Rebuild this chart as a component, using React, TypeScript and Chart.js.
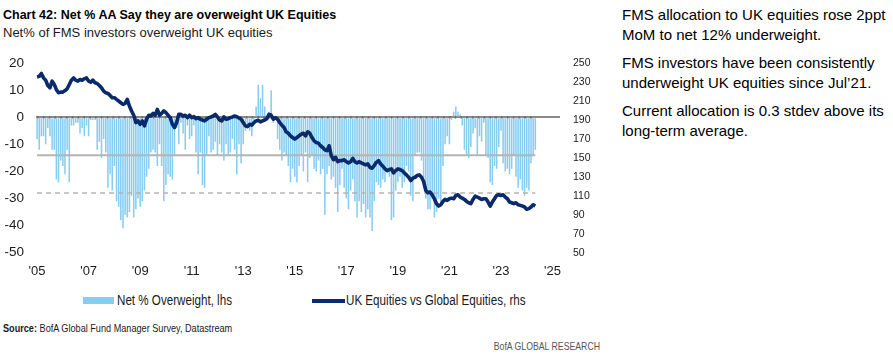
import React, { useEffect, useRef } from "react";
import { Chart, registerables } from "chart.js";

Chart.register(...registerables);

// ---------- DATA ----------
const START_YEAR = 2005;
const N_CATEGORIES = 244; // Jan 2005 .. Apr 2025 (axis runs past last data point)
const MONTH_NAMES = ["Jan", "Feb", "Mar", "Apr", "May", "Jun", "Jul", "Aug", "Sep", "Oct", "Nov", "Dec"];
const categories: string[] = [];
for (let i = 0; i < N_CATEGORIES; i++) {
  categories.push(`${MONTH_NAMES[i % 12]} ${START_YEAR + Math.floor(i / 12)}`);
}

const xTickLabels = ["'05", "'07", "'09", "'11", "'13", "'15", "'17", "'19", "'21", "'23", "'25"];

// Net % of FMS investors overweight UK equities (lhs), monthly Jan 2005 .. May 2024
const netOverweight = [
  -8, -12, -7, -7, -10, -4, -7, -12, -12, -23, -24, -16, -18, -21, -12, -24, -3, -3, -2, -2,
  -6, -4, -7, -3, -7, -1, -1, -1, -12, -9, -15, -8, -13, -26, -21, -27, -18, -31, -33, -38,
  -41, -36, -37, -35, -29, -37, -34, -30, -33, -31, -27, -22, -19, -13, -12, -13, -18, -10, -18, -31,
  -25, -21, -22, -23, -14, -4, -10, -2, -6, -12, -3, -8, -7, -3, -13, -21, -13, -25, -26, -14,
  -7, -13, -12, -9, -14, -10, -13, -16, -10, -14, -13, -8, -12, -21, -10, -17, -10, -5, -4, -5,
  -7, -1, 4, 12, 7, 12, 4, 0, 2, 10, -2, -1, -8, -12, -16, -13, -14, -18, -24, -19,
  -22, -24, -18, -14, -20, -13, -24, -15, -14, -19, -20, -16, -21, -19, -36, -21, -18, -23, -22, -26,
  -35, -25, -19, -26, -30, -34, -27, -23, -31, -37, -31, -35, -32, -37, -34, -37, -42, -31, -24, -25,
  -26, -23, -24, -20, -22, -38, -37, -27, -24, -22, -26, -24, -18, -20, -29, -31, -14, -13, -13, -16,
  -26, -30, -34, -34, -30, -37, -35, -30, -32, -18, -10, -7, -10, -1, 2, 4, 2, 1, -3, -12,
  -14, -15, -11, -6, -4, -14, -7, -9, -2, -14, -15, -24, -25, -18, -19, -11, -5, -17, -20, -19,
  -21, -19, -14, -22, -26, -23, -27, -29, -26, -27, -17, -14, -12,
];

// UK equities vs global equities (rhs)
const ukVsGlobal = [
  235.4, 236, 239, 234.4, 232, 226.4, 224, 231, 227.4, 222, 218.7, 219.4, 219.4, 221, 222.9, 227.4, 232, 234.4, 232, 231,
  232.7, 232, 233.4, 234.4, 231, 229.9, 232, 229.2, 228.5, 226.4, 224, 220.4, 218.7, 218, 215.9, 213.5, 213.5, 211.7, 210, 208.2,
  206.5, 207.5, 211.7, 204.7, 199.5, 195, 187.3, 189, 185.5, 189, 183.8, 190.8, 195, 194.2, 197, 195, 201.2, 195, 197, 199.5,
  197.7, 195, 192.5, 185.5, 182, 187.3, 196, 196, 194.2, 195, 192.5, 195, 192.5, 193.5, 191.4, 192.5, 190.8, 190, 189, 190.8,
  192.5, 193.2, 194.2, 196, 193.2, 190, 189, 193.2, 190.8, 191.4, 192.5, 193.2, 194.2, 193.5, 192.1, 190.8, 187.3, 183.8, 183, 185.5,
  184.5, 187.3, 189, 189.7, 188, 189, 190, 191.4, 196, 195, 190.8, 192.5, 190.8, 187.3, 184.5, 182, 177.5, 176, 173.3, 171.5,
  169.8, 171.5, 173.3, 175, 176, 173.3, 177.5, 176, 171.5, 168, 166.3, 165.6, 162.8, 161, 158.6, 157.6, 162.8, 152.3, 148.1, 150.6,
  146, 147.1, 147.1, 148.1, 146, 144.7, 146, 149.5, 146, 144.7, 146, 144.7, 143.6, 142.6, 143.6, 140.1, 139.1, 141.9, 145.3, 147.1,
  143.6, 141.2, 138.4, 136.6, 137.7, 138.4, 134.2, 136.6, 138.4, 137.7, 136.6, 134.2, 132.1, 129.6, 126.1, 128.6, 129.6, 131.4, 132.1, 129.6,
  125.1, 115.7, 113.2, 114, 111.1, 106.9, 101.7, 99.2, 100.6, 104.1, 106.2, 105.2, 106.9, 107.6, 106.9, 110.4, 111.1, 108.7, 107.6, 106.2,
  104.1, 102.7, 101.7, 106.2, 109.7, 108.7, 107.6, 106.2, 106.9, 106.9, 103.4, 99.2, 103.4, 106.9, 110.4, 111.1, 110.4, 111.1, 108.7, 106.9,
  103.4, 102.7, 101.7, 102.7, 100.6, 99.9, 99.2, 98.2, 95.8, 96.5, 98.2, 100.6, 99.2,
];

const averageLevel = -14; // long-term average (lhs)
const minusOneStdevLevel = -28; // average - 1 stdev (lhs)
const zeroLevel = 0;

const LEFT_MIN = -50;
const LEFT_MAX = 20;
const LEFT_STEP = 10;
const RIGHT_MIN = 50;
const RIGHT_MAX = 250;
const RIGHT_STEP = 20;

const BAR_COLOR = "#86CDF0";
const LINE_COLOR = "#0B2A6B";

const SANS = "'Liberation Sans', Arial, sans-serif";

export default function App() {
  const canvasRef = useRef<HTMLCanvasElement | null>(null);

  useEffect(() => {
    const canvas = canvasRef.current;
    if (!canvas) return;
    const chart = new Chart(canvas, {
      type: "bar",
      data: {
        labels: categories,
        datasets: [
          {
            type: "line",
            label: "UK Equities vs Global Equities, rhs",
            data: ukVsGlobal,
            yAxisID: "y1",
            borderColor: LINE_COLOR,
            borderWidth: 3.6,
            pointRadius: 0,
            tension: 0,
            borderJoinStyle: "round",
            order: 0,
          } as any,
          {
            type: "line",
            label: "zero ticks",
            data: netOverweight.map(() => zeroLevel),
            yAxisID: "y",
            borderColor: "#6e6e6e",
            borderWidth: 2.5,
            borderDash: [1.5, 4.3],
            pointRadius: 0,
            order: 1,
          } as any,
          {
            type: "line",
            label: "Average",
            data: netOverweight.map(() => averageLevel),
            yAxisID: "y",
            borderColor: "#b4b4b4",
            borderWidth: 2,
            pointRadius: 0,
            order: 2,
          } as any,
          {
            type: "line",
            label: "-1 stdev",
            data: netOverweight.map(() => minusOneStdevLevel),
            yAxisID: "y",
            borderColor: "#b4b4b4",
            borderWidth: 1.5,
            borderDash: [5, 4],
            pointRadius: 0,
            order: 2,
          } as any,
          {
            type: "bar",
            label: "Net % Overweight, lhs",
            data: netOverweight,
            yAxisID: "y",
            backgroundColor: BAR_COLOR,
            borderWidth: 0,
            categoryPercentage: 1,
            barPercentage: 0.72,
            order: 3,
          } as any,
        ],
      },
      options: {
        animation: false,
        responsive: false,
        maintainAspectRatio: false,
        layout: { padding: { top: 5, left: 0, right: 0, bottom: 0 } },
        plugins: { legend: { display: false }, tooltip: { enabled: false } },
        scales: {
          x: {
            type: "category",
            offset: true,
            grid: { display: false, drawTicks: false },
            border: { display: false },
            ticks: {
              autoSkip: false,
              maxRotation: 0,
              minRotation: 0,
              padding: 11,
              color: "#1a1a1a",
              font: { family: SANS, size: 13 },
              callback: (_v: any, i: number) => (i % 24 === 0 ? xTickLabels[i / 24] ?? "" : ""),
            },
            afterFit: (s: any) => {
              s.height = 37.3;
            },
          },
          y: {
            position: "left",
            min: LEFT_MIN,
            max: LEFT_MAX,
            ticks: {
              stepSize: LEFT_STEP,
              padding: 12,
              color: "#1a1a1a",
              font: { family: SANS, size: 13.5 },
            },
            grid: {
              drawTicks: false,
              lineWidth: 2,
              color: (c: any) => (c.tick && c.tick.value === 0 ? "#8a8a8a" : "rgba(0,0,0,0)"),
            },
            border: { display: false },
            afterFit: (s: any) => {
              s.width = 36;
            },
          },
          y1: {
            position: "right",
            min: RIGHT_MIN,
            max: RIGHT_MAX,
            ticks: {
              stepSize: RIGHT_STEP,
              padding: 13,
              color: "#1a1a1a",
              font: { family: SANS, size: 10.5 },
            },
            grid: { display: false, drawTicks: false },
            border: { display: false },
            afterFit: (s: any) => {
              s.width = 40;
            },
          },
        },
      },
    });
    return () => chart.destroy();
  }, []);

  const abs = (o: React.CSSProperties): React.CSSProperties => ({ position: "absolute", margin: 0, ...o });
  const narrow = (origin: string): React.CSSProperties => ({ transform: "scaleX(0.83)", transformOrigin: origin });

  return (
    <div>
      <div style={abs({ left: 3, top: 9, font: `bold 12.5px ${SANS}`, lineHeight: 1, color: "#000", whiteSpace: "nowrap" })}>
        Chart 42: Net % AA Say they are overweight UK Equities
      </div>
      <div style={abs({ left: 3, top: 26, font: `13px ${SANS}`, lineHeight: 1, color: "#1a1a1a", whiteSpace: "nowrap" })}>
        Net% of FMS investors overweight UK equities
      </div>

      <canvas ref={canvasRef} width={600} height={247} style={abs({ left: 0, top: 43, width: 600, height: 247 })} />

      {/* legend */}
      <div style={abs({ left: 83, top: 297, width: 31, height: 7, background: BAR_COLOR })} />
      <div style={abs({ left: 117, top: 292, font: `14px ${SANS}`, lineHeight: "16px", color: "#1a1a1a", whiteSpace: "nowrap", ...narrow("left center") })}>
        Net % Overweight, lhs
      </div>
      <div style={abs({ left: 312, top: 299, width: 33, height: 3.5, background: LINE_COLOR })} />
      <div style={abs({ left: 346, top: 292, font: `14px ${SANS}`, lineHeight: "16px", color: "#1a1a1a", whiteSpace: "nowrap", ...narrow("left center") })}>
        UK Equities vs Global Equities, rhs
      </div>

      <div style={abs({ left: 3, top: 322, font: `11px ${SANS}`, lineHeight: "13px", color: "#1a1a1a", whiteSpace: "nowrap", ...narrow("left center") })}>
        <b>Source:</b> BofA Global Fund Manager Survey, Datastream
      </div>
      <div style={abs({ left: 400, width: 200, textAlign: "right", top: 340, font: `10.5px ${SANS}`, lineHeight: "12px", color: "#555", whiteSpace: "nowrap", ...narrow("right center") })}>
        BofA GLOBAL RESEARCH
      </div>

      <div style={abs({ left: 622, top: 5, font: `15px ${SANS}`, lineHeight: "20px", color: "#000", whiteSpace: "nowrap" })}>
        <div>FMS allocation to UK equities rose 2ppt<br />MoM to net 12% underweight.</div>
        <div style={{ marginTop: 8 }}>FMS investors have been consistently<br />underweight UK equities since Jul’21.</div>
        <div style={{ marginTop: 8 }}>Current allocation is 0.3 stdev above its<br />long-term average.</div>
      </div>
    </div>
  );
}
